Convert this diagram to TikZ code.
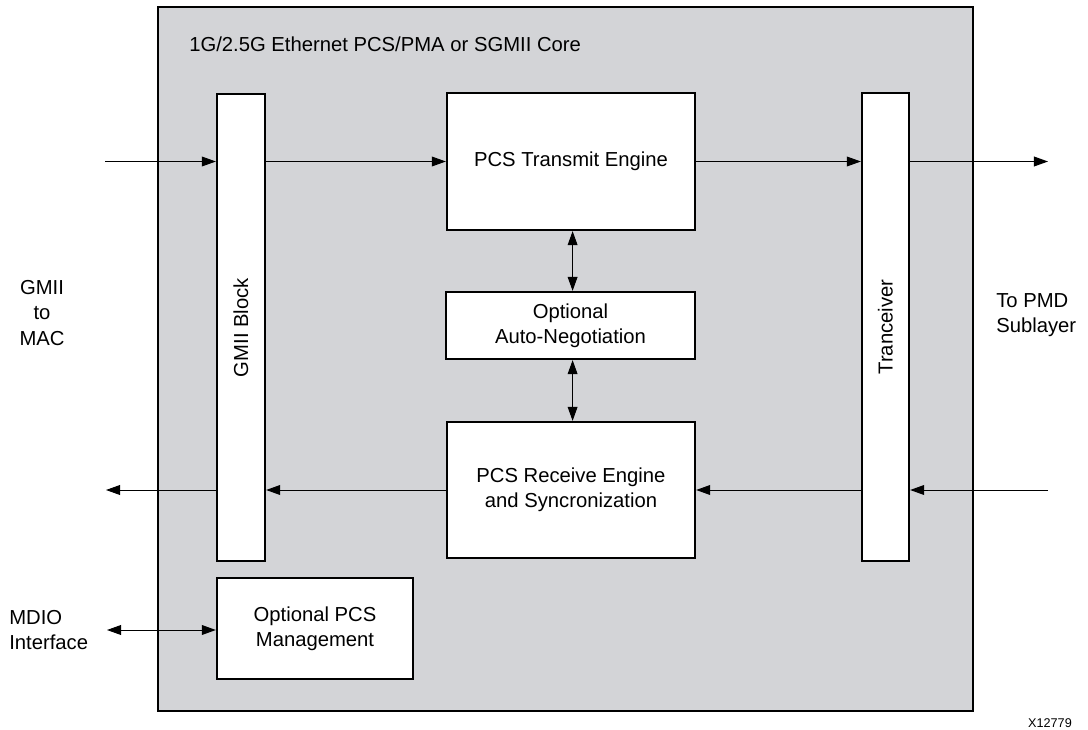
\documentclass[tikz,border=0pt]{standalone}
\usepackage{fontspec}
\setmainfont{Liberation Sans}
\usepackage{xcolor}
\usepackage{tikz}
\usetikzlibrary{arrows.meta}
\definecolor{coregray}{RGB}{211,212,215}
\tikzstyle{txt} = [font=\fontsize{14.4}{17.8}\selectfont, align=center]
\tikzstyle{block} = [draw, line width=1.6pt, fill=white, inner sep=2pt, txt]
\tikzstyle{line} = [draw, line width=0.7pt, -{Triangle[length=10pt,width=7pt]}]
\tikzstyle{dline} = [draw, line width=0.7pt, {Triangle[length=10pt,width=7pt]}-{Triangle[length=10pt,width=7pt]}]

\begin{document}
\begin{tikzpicture}[auto, x=0.025cm, y=-0.025cm]
\useasboundingbox (0,0) rectangle (1088,730);
\node at (565.5, 359) [draw, line width=1.6pt, fill=coregray, minimum width=20.375cm, minimum height=17.6cm] (core) {};
\node at (189, 44) [txt, anchor=west, inner sep=0] (title) {1G/2.5G Ethernet PCS/PMA or SGMII Core};

\node at (241, 327.5) [block, minimum width=1.2cm, minimum height=11.675cm] (gmii) {\rotatebox{90}{GMII Block}};
\node at (885.5, 327) [block, minimum width=1.175cm, minimum height=11.7cm] (trx) {\rotatebox{90}{Tranceiver}};
\node at (571, 161.5) [block, minimum width=6.2cm, minimum height=3.425cm] (pcstx) {PCS Transmit Engine};
\node at (570.5, 325.5) [block, minimum width=6.225cm, minimum height=1.675cm] (autoneg) {Optional\\Auto-Negotiation};
\node at (571, 490) [block, minimum width=6.2cm, minimum height=3.4cm] (pcsrx) {PCS Receive Engine\\and Syncronization};
\node at (315, 628.5) [block, minimum width=4.9cm, minimum height=2.525cm] (mgmt) {Optional PCS\\Management};

\node at (42, 313) [txt] (mac) {GMII\\to\\MAC};
\node at (996, 315) [txt, anchor=west, align=left, inner sep=0] (pmd) {To PMD\\Sublayer};
\node at (9, 630) [txt, anchor=west, align=left, inner sep=0] (mdio) {MDIO\\Interface};
\node at (1050, 723) [font=\fontsize{9}{11}\selectfont] (fig) {X12779};

% transmit path
\coordinate (macin) at (105, 161.5);
\coordinate (pmdout) at (1048, 161.5);
\path [line] (macin) -- (macin -| gmii.west);
\path [line] (macin -| gmii.east) -- (pcstx.west);
\path [line] (pcstx.east) -- (pcstx.east -| trx.west);
\path [line] (pcstx.east -| trx.east) -- (pmdout);

% receive path
\coordinate (pmdin) at (1048, 490);
\coordinate (macout) at (106, 490);
\path [line] (pmdin) -- (pmdin -| trx.east);
\path [line] (pmdin -| trx.west) -- (pcsrx.east);
\path [line] (pcsrx.west) -- (pcsrx.west -| gmii.east);
\path [line] (pcsrx.west -| gmii.west) -- (macout);

% auto-negotiation
\path [dline] ([xshift=0.04cm]pcstx.south) -- ([xshift=0.04cm]pcstx.south |- autoneg.north);
\path [dline] ([xshift=0.04cm]pcstx.south |- autoneg.south) -- ([xshift=0.04cm]pcstx.south |- pcsrx.north);

% management
\coordinate (mdioport) at (107, 630);
\path [dline] (mdioport) -- (mdioport -| mgmt.west);
\end{tikzpicture}
\end{document}
